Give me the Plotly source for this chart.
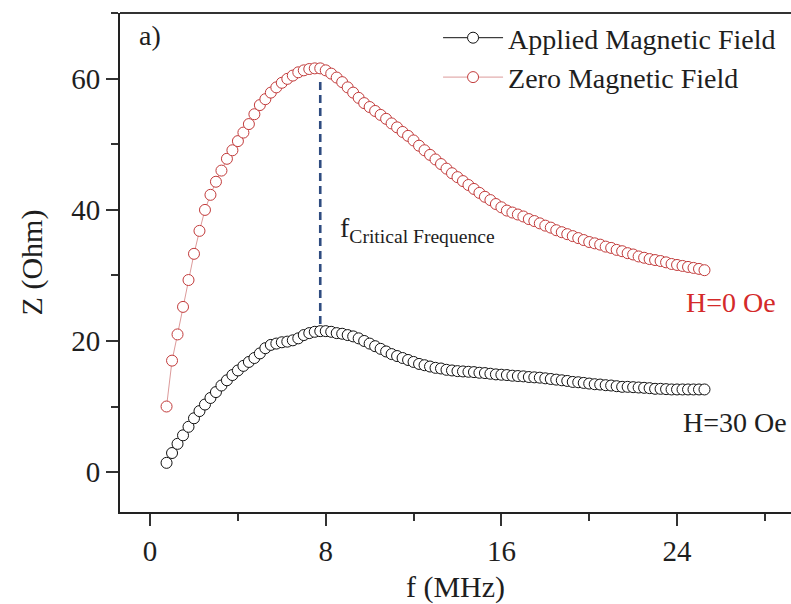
import plotly.graph_objects as go

# Frequency sweep (MHz)
freq = [0.75, 1.0, 1.25, 1.5, 1.75, 2.0, 2.25, 2.5, 2.75, 3.0,
        3.25, 3.5, 3.75, 4.0, 4.25, 4.5, 4.75, 5.0, 5.25, 5.5,
        5.75, 6.0, 6.25, 6.5, 6.75, 7.0, 7.25, 7.5, 7.75, 8.0,
        8.25, 8.5, 8.75, 9.0, 9.25, 9.5, 9.75, 10.0, 10.25, 10.5,
        10.75, 11.0, 11.25, 11.5, 11.75, 12.0, 12.25, 12.5, 12.75, 13.0,
        13.25, 13.5, 13.75, 14.0, 14.25, 14.5, 14.75, 15.0, 15.25, 15.5,
        15.75, 16.0, 16.25, 16.5, 16.75, 17.0, 17.25, 17.5, 17.75, 18.0,
        18.25, 18.5, 18.75, 19.0, 19.25, 19.5, 19.75, 20.0, 20.25, 20.5,
        20.75, 21.0, 21.25, 21.5, 21.75, 22.0, 22.25, 22.5, 22.75, 23.0,
        23.25, 23.5, 23.75, 24.0, 24.25, 24.5, 24.75, 25.0, 25.25]

# Impedance with no applied field, H = 0 Oe (Ohm)
z_zero = [10.0, 17.0, 21.0, 25.2, 29.3, 33.3, 36.8, 40.0, 42.3, 44.3,
          46.0, 47.8, 49.1, 50.5, 51.8, 53.1, 54.6, 56.0, 56.9, 57.9,
          58.7, 59.4, 60.0, 60.5, 61.0, 61.3, 61.5, 61.6, 61.6, 61.3,
          60.8, 60.2, 59.5, 58.7, 57.9, 57.1, 56.3, 55.7, 55.1, 54.5,
          53.9, 53.2, 52.6, 51.9, 51.3, 50.6, 49.8, 49.1, 48.4, 47.7,
          47.0, 46.3, 45.6, 45.0, 44.4, 43.8, 43.2, 42.6, 42.0, 41.5,
          40.9, 40.4, 39.9, 39.6, 39.3, 39.0, 38.6, 38.3, 37.95, 37.6,
          37.3, 36.9, 36.6, 36.3, 36.0, 35.7, 35.4, 35.1, 34.9, 34.7,
          34.4, 34.2, 33.9, 33.7, 33.4, 33.2, 32.9, 32.7, 32.5, 32.35,
          32.2, 32.0, 31.75, 31.6, 31.45, 31.3, 31.15, 31.0, 30.8]

# Impedance with applied field, H = 30 Oe (Ohm)
z_applied = [1.4, 2.9, 4.3, 5.6, 6.9, 8.2, 9.3, 10.3, 11.3, 12.2,
             13.2, 14.0, 14.8, 15.5, 16.2, 16.8, 17.4, 18.1, 18.9, 19.4,
             19.6, 19.8, 19.9, 20.1, 20.4, 20.9, 21.2, 21.4, 21.5, 21.5,
             21.4, 21.2, 21.1, 20.9, 20.7, 20.4, 20.0, 19.6, 19.2, 18.8,
             18.4, 18.0, 17.7, 17.4, 17.1, 16.8, 16.5, 16.3, 16.1, 15.9,
             15.8, 15.6, 15.5, 15.4, 15.35, 15.3, 15.25, 15.15, 15.1, 15.0,
             14.9, 14.85, 14.8, 14.7, 14.65, 14.6, 14.5, 14.45, 14.4, 14.3,
             14.2, 14.1, 14.0, 13.9, 13.75, 13.7, 13.6, 13.5, 13.4, 13.35,
             13.25, 13.2, 13.1, 13.0, 13.0, 12.95, 12.9, 12.85, 12.8, 12.7,
             12.7, 12.65, 12.6, 12.6, 12.6, 12.6, 12.6, 12.6, 12.6]

# Critical frequency marker (MHz) and the span of the dashed guide (Ohm)
f_critical = 7.75
guide_span = [22.6, 59.6]

x_ticks = [0, 8, 16, 24]
y_ticks = [0, 20, 40, 60]

SERIF = "Liberation Serif"
RED = "#c23b3b"
RED_LINE = "#dc9a9a"
INK = "#1e1e1e"

fig = go.Figure()

fig.add_trace(go.Scatter(
    x=[f_critical, f_critical], y=guide_span, mode="lines",
    line=dict(color="#2f4c80", width=2.6, dash="8px,5px"),
    showlegend=False, hoverinfo="skip"))

fig.add_trace(go.Scatter(
    x=freq, y=z_applied, mode="lines+markers", name="Applied Magnetic Field",
    line=dict(color="#111111", width=1),
    marker=dict(symbol="circle", size=11, color="white",
                line=dict(color="#111111", width=1))))

fig.add_trace(go.Scatter(
    x=freq, y=z_zero, mode="lines+markers", name="Zero Magnetic Field",
    line=dict(color=RED_LINE, width=1),
    marker=dict(symbol="circle", size=11, color="white",
                line=dict(color=RED, width=1))))

fig.add_annotation(x=0.0, y=66.6, text="a)", showarrow=False,
                   font=dict(family=SERIF, size=28, color=INK))
fig.add_annotation(x=8.55, y=37.0, xanchor="left", yanchor="middle",
                   text="f<sub>Critical Frequence</sub>", showarrow=False,
                   font=dict(family=SERIF, size=28, color=INK))
fig.add_annotation(x=26.46, y=25.8, text="H=0 Oe", showarrow=False,
                   font=dict(family=SERIF, size=28, color="#d42a2a"))
fig.add_annotation(x=26.66, y=7.6, text="H=30 Oe", showarrow=False,
                   font=dict(family=SERIF, size=28, color=INK))

# top frame line (the right side of the frame lies outside the page)
fig.add_shape(type="line", xref="paper", yref="paper", x0=0, x1=1, y0=1, y1=1,
              line=dict(color="#333333", width=2))

fig.update_xaxes(
    range=[-1.37, 29.19], tickmode="array", tickvals=x_ticks,
    ticktext=[str(v) for v in x_ticks],
    ticks="outside", ticklen=12, tickwidth=1.5, tickcolor="#333333",
    minor=dict(dtick=4, tick0=0, ticks="outside", ticklen=7, tickwidth=1.5,
               tickcolor="#333333"),
    showline=True, linecolor="#222222", linewidth=2, mirror=False,
    showgrid=False, zeroline=False,
    tickfont=dict(family=SERIF, size=29, color=INK),
    title=dict(text="f (MHz)", font=dict(family=SERIF, size=30, color=INK),
               standoff=16))

fig.update_yaxes(
    range=[-6.1, 70.05], tickmode="array", tickvals=y_ticks,
    ticktext=[str(v) for v in y_ticks],
    ticks="outside", ticklen=12, tickwidth=1.5, tickcolor="#333333",
    minor=dict(dtick=10, tick0=0, ticks="outside", ticklen=7, tickwidth=1.5,
               tickcolor="#333333"),
    showline=True, linecolor="#222222", linewidth=2, mirror=False,
    showgrid=False, zeroline=False,
    tickfont=dict(family=SERIF, size=29, color=INK),
    title=dict(text="Z (Ohm)", font=dict(family=SERIF, size=30, color=INK),
               standoff=20))

fig.update_layout(
    width=791, height=604,
    margin=dict(l=120, r=0, t=13, b=92),
    paper_bgcolor="white", plot_bgcolor="white",
    legend=dict(x=0.474, y=1.0, xanchor="left", yanchor="top",
                font=dict(family=SERIF, size=28, color=INK),
                bgcolor="rgba(0,0,0,0)", itemwidth=60, tracegroupgap=0),
)

fig.write_html("out.html")
